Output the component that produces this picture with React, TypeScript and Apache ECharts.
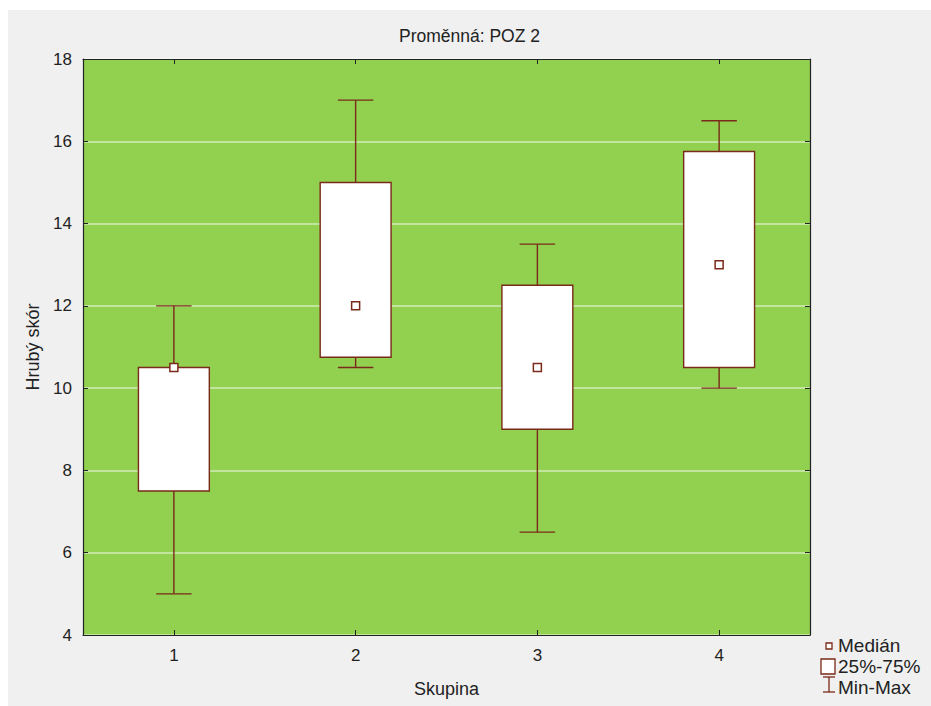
import React, { useEffect, useRef } from "react";
import * as echarts from "echarts";

const categories = ["1", "2", "3", "4"];
const minValues = [5, 10.5, 6.5, 10];
const q1Values = [7.5, 10.75, 9, 10.5];
const medianValues = [10.5, 12, 10.5, 13];
const q3Values = [10.5, 15, 12.5, 15.75];
const maxValues = [12, 17, 13.5, 16.5];
const yTicks = { min: 4, max: 18, interval: 2 };

const FONT = "Liberation Sans";
const BOX = "#7a2a18";
const GREEN = "#92d050";

export default function App() {
  const ref = useRef<HTMLDivElement>(null);
  useEffect(() => {
    if (!ref.current) return;
    const chart = echarts.init(ref.current, undefined, { renderer: "svg" });
    const data = categories.map((c, i) => [
      i,
      minValues[i],
      q1Values[i],
      medianValues[i],
      q3Values[i],
      maxValues[i],
    ]);
    const renderItem = (params: any, api: any) => {
      const x = api.value(0);
      const pMin = api.coord([x, api.value(1)]);
      const pQ1 = api.coord([x, api.value(2)]);
      const pMed = api.coord([x, api.value(3)]);
      const pQ3 = api.coord([x, api.value(4)]);
      const pMax = api.coord([x, api.value(5)]);
      const band = api.size([1, 0])[0];
      const bw = band * 0.39;
      const cw = bw * 0.5;
      const cx = pMin[0];
      const lineStyle = { stroke: BOX, lineWidth: 1.4 };
      return {
        type: "group",
        children: [
          { type: "line", shape: { x1: cx, y1: pMax[1], x2: cx, y2: pQ3[1] }, style: lineStyle },
          { type: "line", shape: { x1: cx, y1: pMin[1], x2: cx, y2: pQ1[1] }, style: lineStyle },
          { type: "line", shape: { x1: cx - cw / 2, y1: pMax[1], x2: cx + cw / 2, y2: pMax[1] }, style: lineStyle },
          { type: "line", shape: { x1: cx - cw / 2, y1: pMin[1], x2: cx + cw / 2, y2: pMin[1] }, style: lineStyle },
          {
            type: "rect",
            shape: { x: cx - bw / 2, y: pQ3[1], width: bw, height: pQ1[1] - pQ3[1] },
            style: { fill: "#ffffff", stroke: BOX, lineWidth: 1.4 },
          },
          {
            type: "rect",
            shape: { x: cx - 4, y: pMed[1] - 4, width: 8, height: 8 },
            style: { fill: "#ffffff", stroke: BOX, lineWidth: 1.5 },
          },
        ],
      };
    };
    const axisLine = { show: true, lineStyle: { color: "#222", width: 1.2 } };
    const tickLabel = { color: "#222", fontFamily: FONT, fontSize: 17 };
    const nameLabel = { color: "#222", fontFamily: FONT, fontSize: 18 };
    const legendFont = `19px "${FONT}"`;
    chart.setOption({
      animation: false,
      backgroundColor: "#f0f0f0",
      textStyle: { fontFamily: FONT },
      title: {
        text: "Proměnná: POZ 2",
        left: "center",
        top: 12,
        textStyle: { fontFamily: FONT, fontSize: 17.5, fontWeight: "normal", color: "#222" },
      },
      grid: {
        left: 75,
        top: 49,
        right: 121,
        bottom: 71,
        show: true,
        backgroundColor: GREEN,
        borderWidth: 0,
      },
      xAxis: [
        {
          type: "category",
          data: categories,
          name: "Skupina",
          nameLocation: "middle",
          nameGap: 45,
          nameTextStyle: { ...nameLabel },
          axisLine,
          axisTick: { show: true, inside: true, length: 5, alignWithLabel: true, lineStyle: { color: "#222" } },
          axisLabel: { ...tickLabel, margin: 12 },
          splitLine: { show: false },
        },
        {
          type: "category",
          data: categories,
          position: "top",
          axisLine,
          axisTick: { show: true, inside: true, length: 5, alignWithLabel: true, lineStyle: { color: "#222" } },
          axisLabel: { show: false },
          splitLine: { show: false },
        },
      ],
      yAxis: [
        {
          type: "value",
          min: yTicks.min,
          max: yTicks.max,
          interval: yTicks.interval,
          name: "Hrubý skór",
          nameLocation: "middle",
          nameGap: 41,
          nameRotate: 90,
          nameTextStyle: { ...nameLabel },
          axisLine,
          axisTick: { show: true, inside: true, length: 5, lineStyle: { color: "#222" } },
          axisLabel: { ...tickLabel, margin: 11 },
          splitLine: { show: true, lineStyle: { color: "rgba(255,255,255,0.6)", width: 1.5 } },
        },
        {
          type: "value",
          min: yTicks.min,
          max: yTicks.max,
          interval: yTicks.interval,
          position: "right",
          axisLine,
          axisTick: { show: true, inside: true, length: 5, lineStyle: { color: "#222" } },
          axisLabel: { show: false },
          splitLine: { show: false },
        },
      ],
      series: [
        {
          type: "custom",
          xAxisIndex: 0,
          yAxisIndex: 0,
          renderItem,
          data,
          z: 5,
        },
      ],
      graphic: [
        {
          type: "group",
          x: 812,
          y: 625,
          children: [
            { type: "rect", shape: { x: 6, y: 8, width: 6, height: 6 }, style: { fill: "#fff", stroke: BOX, lineWidth: 1.3 } },
            { type: "text", x: 18, y: 10, style: { text: "Medián", font: legendFont, fill: "#222", verticalAlign: "middle" } },
            { type: "rect", shape: { x: 1, y: 24, width: 14, height: 15 }, style: { fill: "#fff", stroke: BOX, lineWidth: 1.3 } },
            { type: "text", x: 18, y: 31, style: { text: "25%-75%", font: legendFont, fill: "#222", verticalAlign: "middle" } },
            { type: "line", shape: { x1: 3, y1: 42, x2: 15, y2: 42 }, style: { stroke: BOX, lineWidth: 1.3 } },
            { type: "line", shape: { x1: 9, y1: 42, x2: 9, y2: 57 }, style: { stroke: BOX, lineWidth: 1.3 } },
            { type: "line", shape: { x1: 3, y1: 57, x2: 15, y2: 57 }, style: { stroke: BOX, lineWidth: 1.3 } },
            { type: "text", x: 18, y: 52, style: { text: "Min-Max", font: legendFont, fill: "#222", verticalAlign: "middle" } },
          ],
        },
      ],
    });
    return () => chart.dispose();
  }, []);
  return (
    <div
      ref={ref}
      style={{ position: "fixed", left: 8, top: 10, width: 923, height: 696 }}
    />
  );
}
